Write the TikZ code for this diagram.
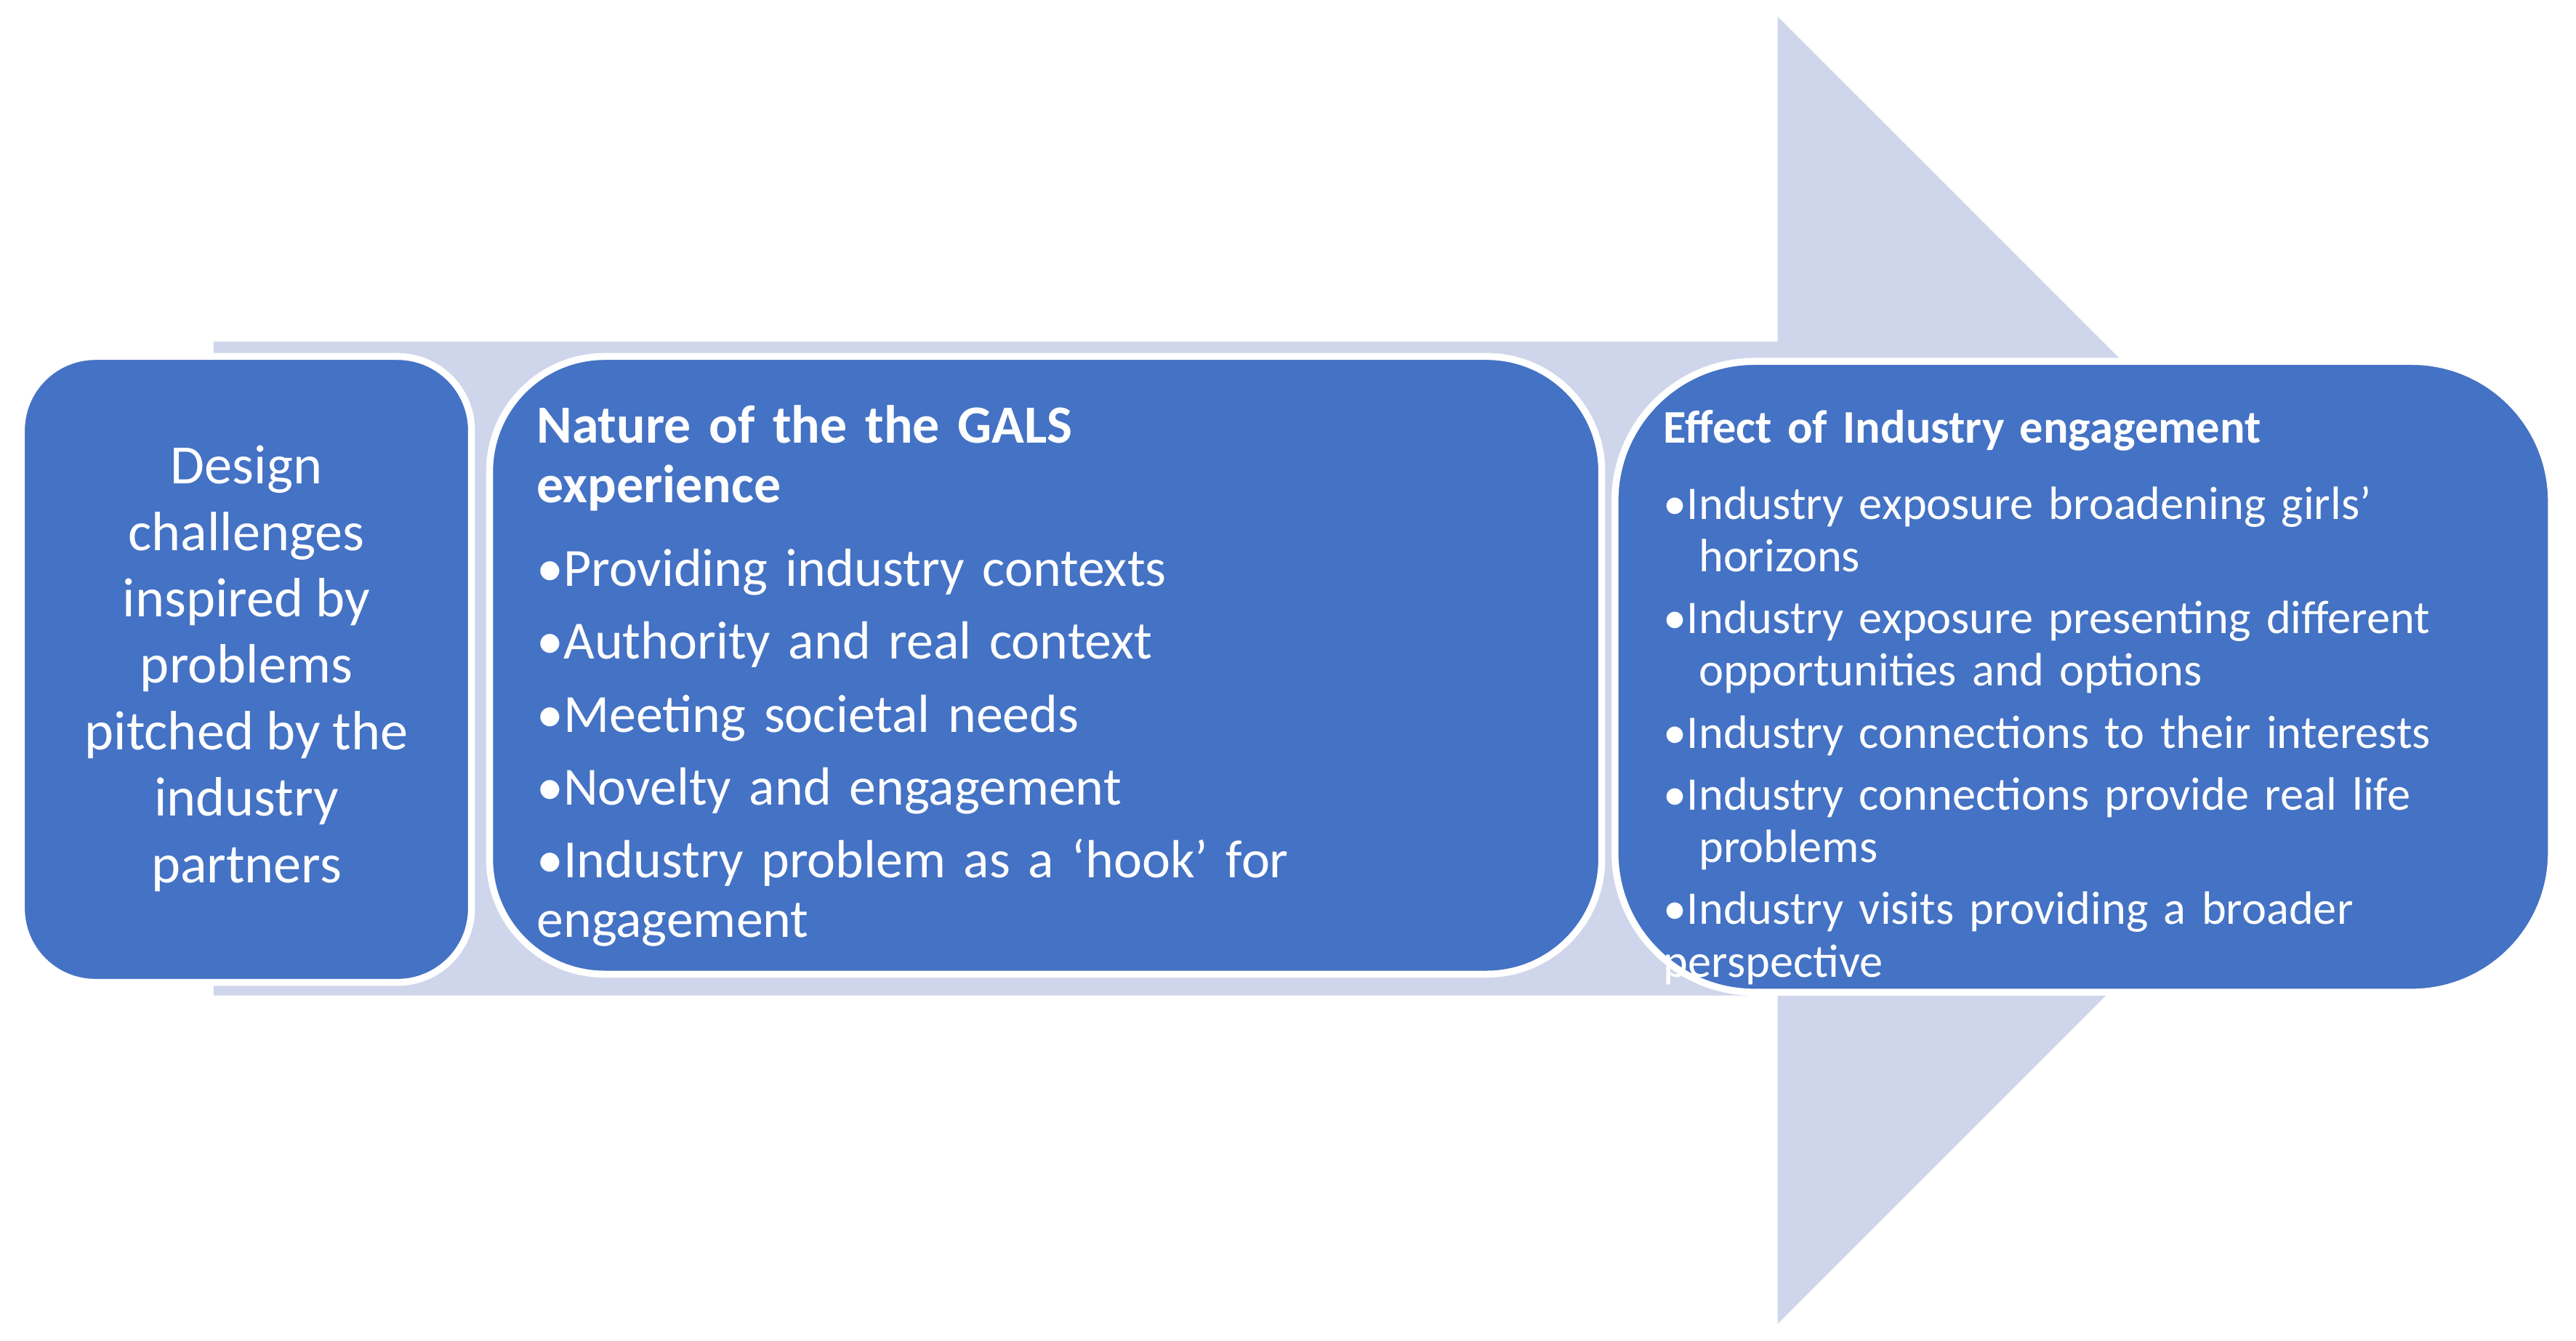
\documentclass[tikz,border=0pt]{standalone}
\usepackage{fontspec}
\setmainfont{Carlito}
\usetikzlibrary{positioning}
\definecolor{boxblue}{HTML}{4472C4}
\definecolor{arrowfill}{HTML}{CFD5EA}
\newcommand{\itm}[1]{\par\hangindent=0.75em\hangafter=1\textbullet#1}
\hyphenpenalty=10000
\begin{document}
\begin{tikzpicture}[x=0.01cm,y=-0.01cm,
    box/.style={draw=white,line width=1.2pt,fill=boxblue,inner sep=0pt},
    txt/.style={text=white,align=left,inner sep=0pt}
  ]
  \useasboundingbox (0,0) rectangle (1568,816);

  % big arrow in the back
  \fill[arrowfill] (130,208) -- (1082,208) -- (1082,10) -- (1480,408)
    -- (1082,806) -- (1082,606) -- (130,606) -- cycle;

  % boxes
  \draw[box,rounded corners=0.45cm] (13,217) rectangle (287,598);
  \draw[box,rounded corners=0.7cm] (298,217) rectangle (975,593);
  \draw[box,rounded corners=0.85cm] (983,220) rectangle (1553,604);

  \node[txt,align=center,font=\fontsize{9.6}{11.5}\selectfont] (design) at (150,407)
    {Design\\challenges\\inspired by\\problems\\pitched by the\\industry\\partners};

  \node[txt,anchor=north west,text width=4.6cm,
        font=\fontsize{9.3}{10.3}\selectfont] (nature) at (326,246)
    {\hyphenpenalty=10000\relax
     \textbf{Nature of the the GALS experience}\par\vspace{0.45em}%
     \itm{Providing industry contexts}\par\vspace{0.25em}%
     \itm{Authority and real context}\par\vspace{0.25em}%
     \itm{Meeting societal needs}\par\vspace{0.25em}%
     \itm{Novelty and engagement}\par\vspace{0.25em}%
     \itm{Industry problem as a ‘hook’ for engagement}};

  \node[txt,anchor=north west,text width=4.75cm,
        font=\fontsize{8.1}{9.1}\selectfont] (effect) at (1012,249)
    {\hyphenpenalty=10000\relax
     \textbf{Effect of Industry engagement}\par\vspace{0.5em}%
     \itm{Industry exposure broadening girls’ horizons}\par\vspace{0.2em}%
     \itm{Industry exposure presenting different opportunities and options}\par\vspace{0.2em}%
     \itm{Industry connections to their interests}\par\vspace{0.2em}%
     \itm{Industry connections provide real life problems}\par\vspace{0.2em}%
     \itm{Industry visits providing a broader perspective}};
\end{tikzpicture}
\end{document}
